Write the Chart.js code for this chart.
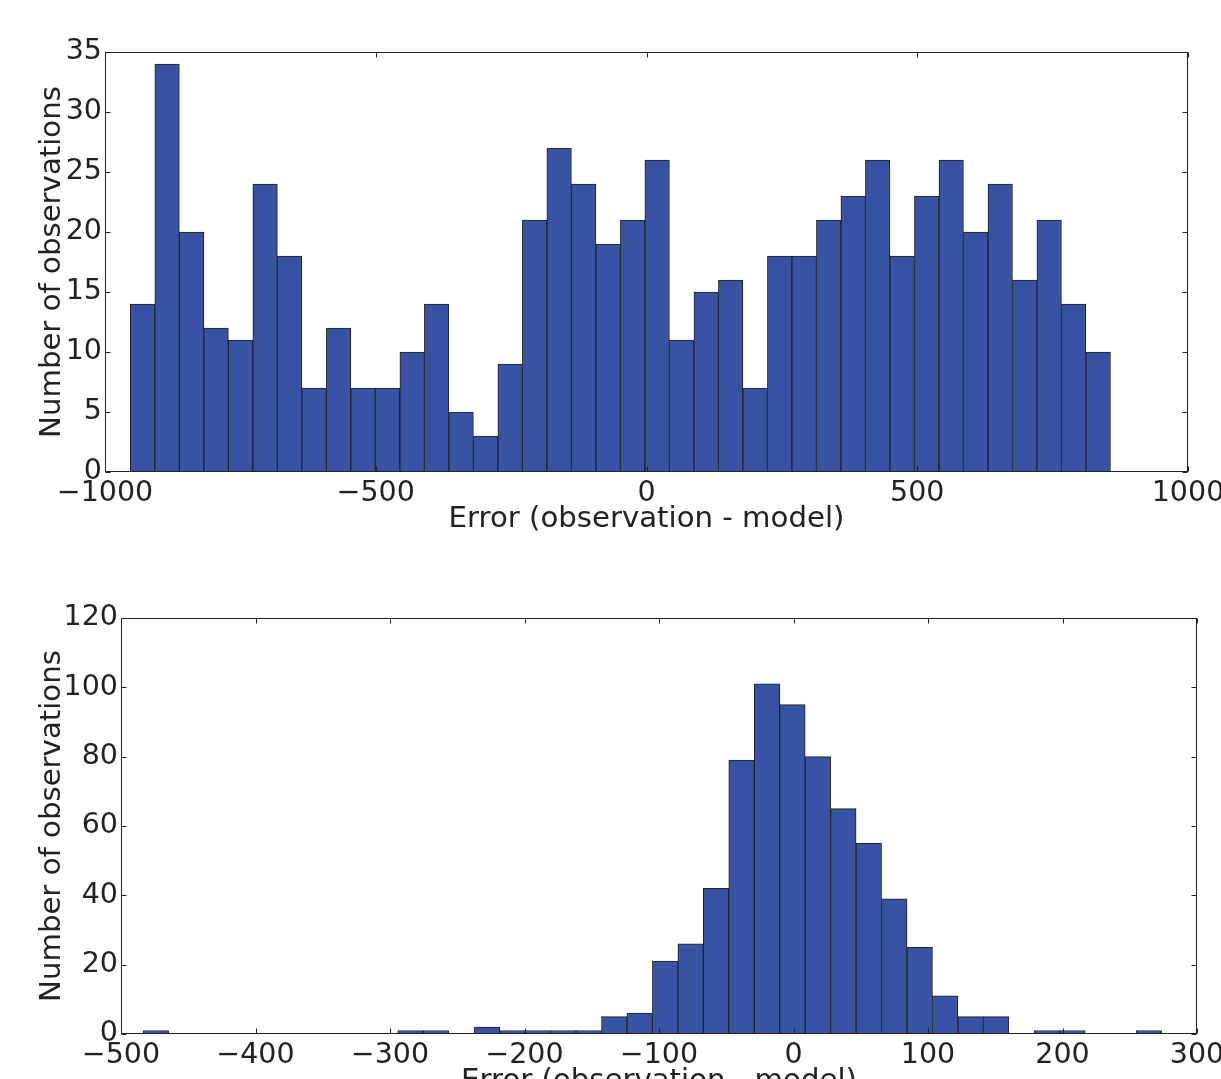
<!DOCTYPE html>
<html>
<head>
<meta charset="utf-8">
<title>Error histograms</title>
<script src="https://cdn.jsdelivr.net/npm/chart.js@4.4.1/dist/chart.umd.min.js"></script>
<style>
  html, body { margin: 0; padding: 0; background: #fff; overflow: hidden; }
  #box1 { position: absolute; left: 0; top: 0; }
  #box2 { position: absolute; left: 0; top: 545px; }
</style>
</head>
<body>
<div id="box1"><canvas id="errTop" width="1221" height="545"></canvas></div>
<div id="box2"><canvas id="errBottom" width="1221" height="562"></canvas></div>
<script>
// top histogram: 40 bins
const topBinStart = -953.2
const topBinWidth = 45.25
const topCounts = [14, 34, 20, 12, 11, 24, 18, 7, 12, 7, 7, 10, 14, 5, 3, 9, 21, 27, 24, 19,
                   21, 26, 11, 15, 16, 7, 18, 18, 21, 23, 26, 18, 23, 26, 20, 24, 16, 21, 14, 10]
const topXTicks = [-1000, -500, 0, 500, 1000]
const topYTicks = [0, 5, 10, 15, 20, 25, 30, 35]

// bottom histogram: 40 bins
const botBinStart = -483.5
const botBinWidth = 18.93
const botCounts = [1, 0, 0, 0, 0, 0, 0, 0, 0, 0, 1, 1, 0, 2, 1, 1, 1, 1, 5, 6,
                   21, 26, 42, 79, 101, 95, 80, 65, 55, 39, 25, 11, 5, 5, 0, 1, 1, 0, 0, 1]
const botXTicks = [-500, -400, -300, -200, -100, 0, 100, 200, 300]
const botYTicks = [0, 20, 40, 60, 80, 100, 120]

const xLabel = 'Error (observation - model)'
const yLabel = 'Number of observations'

const barColor = '#3953a4'
const edgeColor = '#222222'
const textColor = '#222222'
const tickSize = 28.5
const titleSize = 29.2

Chart.defaults.font.family = 'DejaVu Sans'
Chart.defaults.color = textColor

// matplotlib-like frame with inward ticks on all four sides
const frameTicks = {
  id: 'frameTicks',
  afterDraw(chart) {
    const ctx = chart.ctx
    const a = chart.chartArea
    const x = chart.scales.x
    const y = chart.scales.y
    const L = Math.round(a.left) + 0.5
    const R = Math.round(a.right) - 0.5
    const T = Math.round(a.top) + 0.5
    const B = Math.round(a.bottom) - 0.5
    ctx.save()
    ctx.strokeStyle = edgeColor
    ctx.lineWidth = 1
    ctx.beginPath()
    x.ticks.forEach(t => {
      const px = Math.round(x.getPixelForValue(t.value)) + 0.5
      ctx.moveTo(px, B); ctx.lineTo(px, B - 5)
      ctx.moveTo(px, T); ctx.lineTo(px, T + 5)
    })
    y.ticks.forEach(t => {
      const py = Math.round(y.getPixelForValue(t.value)) + 0.5
      ctx.moveTo(L, py); ctx.lineTo(L + 5, py)
      ctx.moveTo(R, py); ctx.lineTo(R - 5, py)
    })
    ctx.stroke()
    ctx.strokeRect(L, T, R - L, B - T)
    ctx.restore()
  }
}

const minusSign = v => String(v).replace('-', '\u2212')

function makeHist(id, binStart, binWidth, counts, xTicks, yTicks, yAxisWidth, padTop, padRight) {
  const points = counts.map((c, i) => ({ x: binStart + binWidth * (i + 0.5), y: c }))
  return new Chart(document.getElementById(id), {
    type: 'bar',
    data: {
      datasets: [{
        data: points,
        backgroundColor: barColor,
        borderColor: edgeColor,
        borderWidth: 1,
        borderSkipped: false,
        barPercentage: 1,
        categoryPercentage: 1
      }]
    },
    options: {
      responsive: false,
      animation: false,
      layout: { padding: { top: padTop, right: padRight, left: 0, bottom: 0 } },
      plugins: { legend: { display: false }, tooltip: { enabled: false } },
      scales: {
        x: {
          type: 'linear',
          min: xTicks[0],
          max: xTicks[xTicks.length - 1],
          offset: false,
          grid: { display: false, drawTicks: false, offset: false },
          border: { display: false },
          afterBuildTicks: s => { s.ticks = xTicks.map(v => ({ value: v })) },
          afterFit: s => { s.height = 73; s.paddingLeft = 0; s.paddingRight = 0 },
          ticks: {
            autoSkip: false, maxRotation: 0, minRotation: 0, padding: 4,
            font: { size: tickSize }, color: textColor,
            callback: v => minusSign(v)
          },
          title: {
            display: true, text: xLabel, color: textColor,
            font: { size: titleSize }, padding: { top: 0, bottom: 8.5 }
          }
        },
        y: {
          type: 'linear',
          min: yTicks[0],
          max: yTicks[yTicks.length - 1],
          grid: { display: false, drawTicks: false },
          border: { display: false },
          afterBuildTicks: s => { s.ticks = yTicks.map(v => ({ value: v })) },
          afterFit: s => { s.width = yAxisWidth; s.paddingTop = 0; s.paddingBottom = 0 },
          ticks: {
            autoSkip: false, padding: 3,
            font: { size: tickSize }, color: textColor
          },
          title: {
            display: true, text: yLabel, color: textColor,
            font: { size: titleSize }, padding: { top: 34.6, bottom: 0 }
          }
        }
      }
    },
    plugins: [frameTicks]
  })
}

makeHist('errTop', topBinStart, topBinWidth, topCounts, topXTicks, topYTicks, 105, 52, 33)
makeHist('errBottom', botBinStart, botBinWidth, botCounts, botXTicks, botYTicks, 121, 73, 24)
</script>
</body>
</html>
